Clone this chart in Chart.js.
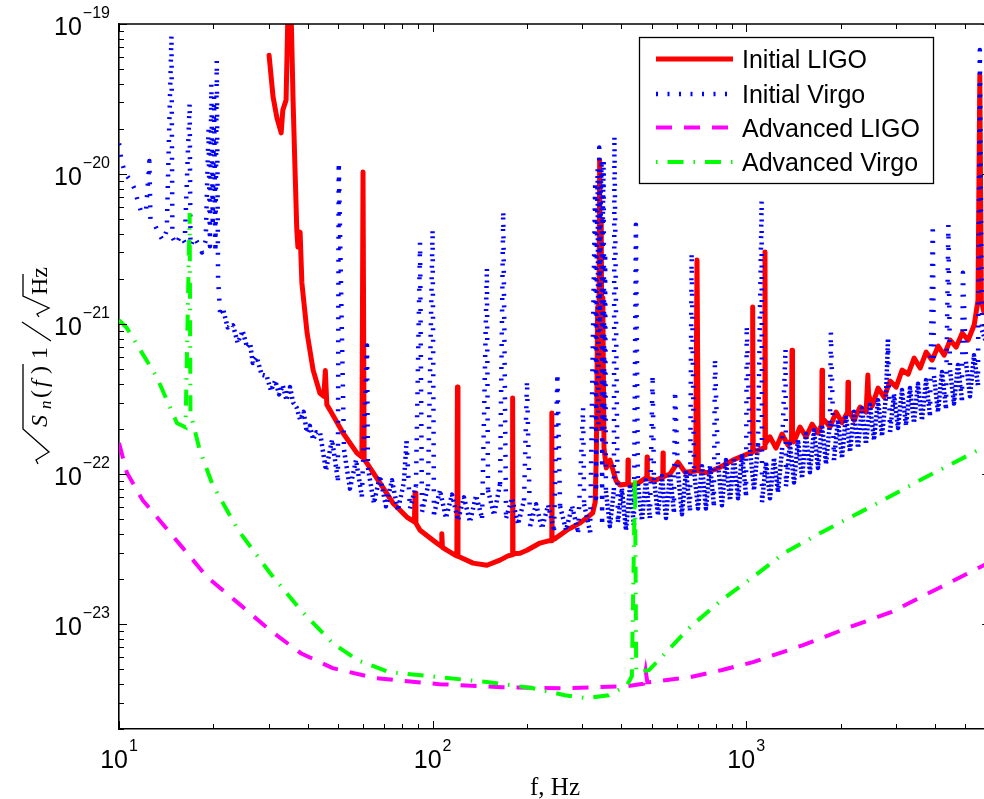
<!DOCTYPE html>
<html><head><meta charset="utf-8">
<script src="https://cdn.jsdelivr.net/npm/chart.js@4.4.1/dist/chart.umd.min.js"></script>
<style>html,body{margin:0;padding:0;overflow:hidden;background:#fff}canvas{display:block}</style>
</head><body>
<canvas id="c" width="1000" height="799"></canvas>
<script>
// ---- tick labels & names ----
const xTickExponents = [1, 2, 3];
const yTickExponents = [-19, -20, -21, -22, -23];
const seriesNames = ['Initial LIGO', 'Initial Virgo', 'Advanced LIGO', 'Advanced Virgo'];

// ---- Initial LIGO ----
const ligoF = [30.1, 31.0, 31.9, 32.9, 33.3, 34.1, 34.6, 35.3, 35.9, 36.4, 36.9, 37.2, 37.8, 38.3, 39.8, 41.6, 43.7, 45.0, 45.5, 46.0, 47.1, 51.8, 57.4, 59.5, 60, 60.5, 61.8, 68, 74.8, 82.8, 87.5, 87.9, 88.5, 91.2, 103, 106.5, 107, 107.5, 111, 118, 119.5, 120, 120.5, 122, 134.6, 149, 164, 174, 179.5, 180, 180.5, 190, 200, 220, 236, 239.5, 240, 240.5, 245, 268, 295, 324, 330, 333, 336, 338, 341, 343, 345, 347, 349, 352, 358, 368, 385, 396, 419, 420, 421, 442, 482, 483, 484, 512, 542, 543, 544, 571, 606, 638, 690, 697, 704, 750, 825, 907, 991, 1045, 1049, 1053, 1090, 1145, 1148, 1152, 1191, 1245, 1301, 1359, 1395, 1400, 1405, 1421, 1485, 1552, 1622, 1695, 1740, 1745, 1752, 1851, 1935, 2022, 2105, 2112, 2120, 2208, 2308, 2412, 2444, 2455, 2521, 2634, 2753, 2877, 3007, 3142, 3284, 3432, 3587, 3749, 3918, 4094, 4279, 4472, 4673, 4884, 5104, 5334, 5485, 5560, 5620, 5730, 6000];
const ligoV = [6.2e-20, 3.26e-20, 2.36e-20, 1.88e-20, 2.67e-20, 3.11e-20, 1.3e-19, 1.5e-19, 3.1e-20, 1.11e-20, 4.23e-21, 3.26e-21, 4.1e-21, 1.88e-21, 8.7e-22, 4.93e-22, 3.47e-22, 3.3e-22, 4.9e-22, 2.9e-22, 2.67e-22, 1.88e-22, 1.38e-22, 1.3e-22, 1.03e-20, 1.25e-22, 1.18e-22, 8.7e-23, 6.4e-23, 5.17e-23, 4.8e-23, 7.47e-23, 4.7e-23, 4.23e-23, 3.47e-23, 3.3e-23, 4.0e-23, 3.25e-23, 3.11e-23, 2.88e-23, 2.85e-23, 3.8e-22, 2.83e-23, 2.8e-23, 2.55e-23, 2.47e-23, 2.67e-23, 2.85e-23, 2.9e-23, 3.21e-22, 2.95e-23, 2.97e-23, 3.11e-23, 3.47e-23, 3.6e-23, 3.6e-23, 2.55e-22, 3.65e-23, 3.7e-23, 4.23e-23, 4.71e-23, 5.5e-23, 6.5e-23, 1.5e-22, 1.3e-21, 2e-22, 1.24e-20, 3e-22, 5e-21, 2e-22, 1.5e-21, 1.5e-22, 1.1e-22, 1.24e-22, 9e-23, 8.45e-23, 8.6e-23, 1.24e-22, 8.5e-23, 8.45e-23, 9.5e-23, 1.3e-22, 9.4e-23, 9.1e-23, 9.5e-23, 1.38e-22, 9.6e-23, 1.0e-22, 1.2e-22, 1.03e-22, 1.05e-22, 2.67e-21, 1.05e-22, 1.02e-22, 1.11e-22, 1.24e-22, 1.34e-22, 1.4e-22, 1.3e-21, 1.42e-22, 1.44e-22, 1.5e-22, 3.02e-21, 1.6e-22, 1.77e-22, 1.49e-22, 1.85e-22, 1.56e-22, 1.69e-22, 6.7e-22, 1.82e-22, 1.64e-22, 2.06e-22, 1.77e-22, 2.15e-22, 1.88e-22, 2.12e-22, 4.93e-22, 2.36e-22, 2.06e-22, 2.59e-22, 2.2e-22, 2.59e-22, 4.1e-22, 2.67e-22, 2.28e-22, 2.8e-22, 2.59e-22, 4.57e-22, 3.41e-22, 2.84e-22, 3.74e-22, 3.26e-22, 4.17e-22, 3.8e-22, 4.93e-22, 4.64e-22, 5.93e-22, 5.09e-22, 6.5e-22, 5.75e-22, 7.13e-22, 6.21e-22, 7.82e-22, 7.03e-22, 8.7e-22, 7.82e-22, 9.85e-22, 1.44e-21, 4.57e-20, 1.44e-21, 1.2e-21, 1.3e-21];

// ---- Initial Virgo (four frequency bands) ----
const virgoF1 = [10, 10.2, 10.5, 10.9, 11.2, 11.5, 11.8, 12.2, 12.5, 12.6, 13.0, 13.4, 13.8, 14.2, 14.7, 14.8, 15.2, 15.7, 16.2, 16.8, 16.9, 17.4, 17.9, 18.4, 18.9, 19.3, 19.5, 19.7, 19.9, 20.1, 20.3, 20.5, 20.7, 21.0];
const virgoV1 = [1.6e-20, 1.2e-20, 1.0e-20, 9e-21, 8e-21, 6.5e-21, 5.5e-21, 5.8e-21, 1.22e-20, 5e-21, 4.6e-21, 4.0e-21, 3.6e-21, 4.2e-21, 8.45e-20, 3.8e-21, 3.4e-21, 3.9e-21, 3.5e-21, 2.97e-20, 3.3e-21, 3.8e-21, 3.4e-21, 3.0e-21, 3.6e-21, 2.0e-20, 3.3e-21, 4.0e-20, 4.5e-21, 3.3e-20, 3.0e-21, 5.75e-20, 2.0e-21, 1.2e-21];
const virgoF2 = [21.5, 22.2, 23.1, 23.9, 24.8, 25.6, 26.2, 26.7, 27.5, 28.5, 29.6, 30.5, 31.5, 32.4, 33.3, 34.2, 35.1, 35.9, 36.8, 37.8, 38.8, 39.7, 40.6, 41.6, 42.6];
const virgoV2 = [1.25e-21, 9.5e-22, 9.8e-22, 7.5e-22, 9e-22, 7.0e-22, 7.4e-22, 5.5e-22, 6.0e-22, 4.6e-22, 4.5e-22, 3.6e-22, 4.2e-22, 3.4e-22, 3.9e-22, 3.1e-22, 3.8e-22, 3.0e-22, 2.8e-22, 2.3e-22, 2.6e-22, 1.9e-22, 2.1e-22, 1.7e-22, 1.9e-22];
const virgoF3 = [43.75, 45.7, 47.8, 49.9, 50.2, 52.2, 54.5, 57.0, 59.5, 61.8, 62.2, 65.0, 67.9, 71.0, 74.2, 77.5, 81.0, 82.6, 84.7, 88.5, 91.2, 92.5, 96.7, 100, 101.0, 105.6, 110.3, 115.3, 120.5, 125.9, 131.6, 137.6, 143.8, 149, 150.2, 157.0, 164.1, 168, 171.5, 179.2, 187.3, 195.7, 200, 204.6, 213.8, 223.4, 233.5, 244.0, 250, 255.0, 266.5, 278.5, 291.1, 302, 304.2, 317.9, 330, 332.2, 334, 336, 338, 340, 342, 344, 346, 347.2, 349, 351, 353, 355];
const virgoV3 = [1.9e-22, 1.06e-22, 1.69e-22, 9.1e-23, 1.2e-20, 1.45e-22, 8.0e-23, 1.24e-22, 7.1e-23, 7.2e-22, 1.1e-22, 6.4e-23, 9.7e-23, 6.1e-23, 9.1e-23, 5.75e-23, 8.8e-23, 1.65e-22, 5.9e-23, 8.3e-23, 3.5e-21, 5.6e-23, 8.3e-23, 4.3e-21, 5.4e-23, 7.8e-23, 5.1e-23, 7.3e-23, 4.93e-23, 7.0e-23, 4.8e-23, 7.2e-23, 5.1e-23, 2.4e-21, 7.8e-23, 5.33e-23, 8.6e-23, 5.7e-21, 5.1e-23, 6.9e-23, 4.64e-23, 6.7e-23, 4.2e-22, 4.5e-23, 6.3e-23, 4.35e-23, 6.2e-23, 4.23e-23, 4.7e-22, 6.1e-23, 4.23e-23, 6.1e-23, 4.1e-23, 2.8e-22, 6.3e-23, 4.1e-23, 9e-21, 6.9e-23, 3e-21, 1.1e-20, 2e-22, 1.5e-20, 9e-22, 8e-21, 1.2e-20, 4.5e-23, 5e-21, 1.2e-20, 2e-22, 3e-21];
const virgoF4 = [357, 367.6, 378.6, 380, 389.9, 401.5, 413.6, 425.9, 438.6, 445, 451.7, 465.1, 479, 493.3, 503, 508, 523.1, 538.7, 555, 571.4, 588.5, 593, 606, 624, 643, 662, 670, 682, 702, 723, 744, 767, 789, 795, 813, 837, 862, 888, 914, 942, 970, 999, 1004, 1029, 1059, 1091, 1120, 1123, 1157, 1191, 1227, 1263, 1301, 1335, 1339, 1379, 1421, 1463, 1507, 1551, 1597, 1645, 1694, 1745, 1797, 1850, 1862, 1905, 1962, 2021, 2081, 2143, 2207, 2273, 2340, 2410, 2482, 2556, 2632, 2711, 2791, 2833, 2875, 2960, 3049, 3139, 3233, 3329, 3428, 3531, 3636, 3745, 3856, 3936, 3971, 4089, 4211, 4337, 4413, 4466, 4599, 4736, 4877, 4910, 5022, 5172, 5326, 5484, 5560, 5648, 5900, 6000];
const virgoV4 = [7.7e-23, 4.5e-23, 7.82e-23, 1.8e-20, 4.8e-23, 8.0e-23, 4.23e-23, 8.2e-23, 4.57e-23, 4.6e-21, 8.6e-23, 4.93e-23, 9.1e-23, 5.1e-23, 4.6e-22, 9.4e-23, 5.33e-23, 9.7e-23, 5.1e-23, 1.0e-22, 5.6e-23, 3.6e-22, 1.03e-22, 5.4e-23, 1.06e-22, 5.75e-23, 3.0e-21, 1.06e-22, 5.9e-23, 1.13e-22, 5.9e-23, 1.13e-22, 6.2e-23, 5.9e-22, 1.2e-22, 6.2e-23, 1.24e-22, 6.7e-23, 1.28e-22, 6.9e-23, 1.36e-22, 7.24e-23, 9.8e-22, 1.45e-22, 7.82e-23, 1.56e-22, 6.7e-21, 6.5e-23, 1.2e-22, 6.9e-23, 1.28e-22, 7.6e-23, 1.45e-22, 6.9e-22, 8.3e-23, 1.59e-22, 8.8e-23, 1.69e-22, 9.4e-23, 1.85e-22, 1.03e-22, 1.96e-22, 1.1e-22, 2.12e-22, 1.17e-22, 2.2e-22, 8.9e-22, 1.24e-22, 2.29e-22, 1.28e-22, 2.47e-22, 1.41e-22, 2.6e-22, 1.5e-22, 2.75e-22, 1.59e-22, 2.9e-22, 1.69e-22, 3.11e-22, 1.8e-22, 3.3e-22, 7.9e-22, 1.91e-22, 3.4e-22, 2.03e-22, 3.63e-22, 2.12e-22, 3.75e-22, 2.2e-22, 4.0e-22, 2.29e-22, 4.23e-22, 2.47e-22, 4.6e-21, 4.5e-22, 2.6e-22, 4.8e-22, 2.75e-22, 4.6e-21, 4.93e-22, 2.95e-22, 5.33e-22, 3.11e-22, 2.2e-21, 5.6e-22, 3.3e-22, 6.2e-22, 3.92e-22, 6.7e-20, 9.1e-22, 7e-22, 1.2e-21];

// ---- Advanced LIGO ----
const aligoF = [10, 10.6, 11.9, 15.9, 19.1, 24, 30.3, 38, 48, 66, 105, 166, 264, 417, 470, 478, 484, 490, 551, 662, 832, 1052, 1518, 2095, 2895, 4180, 5730, 6000];
const aligoV = [1.61e-22, 1.02e-22, 6.7e-23, 3.26e-23, 2.06e-23, 1.38e-23, 9.1e-24, 6.4e-24, 5.09e-24, 4.36e-24, 3.98e-24, 3.8e-24, 3.74e-24, 3.86e-24, 4.0e-24, 4.9e-24, 4.1e-24, 4.1e-24, 4.23e-24, 4.43e-24, 4.93e-24, 5.58e-24, 7.24e-24, 9.4e-24, 1.2e-23, 1.77e-23, 2.47e-23, 2.6e-23];

// ---- Advanced Virgo ----
const advF = [10, 10.6, 13.2, 15.3, 16.3, 16.8, 16.9, 18.1, 19.9, 24, 30.3, 38, 48, 57.7, 72.6, 105, 151, 209, 264, 310, 364, 417, 432, 442, 446, 490, 662, 832, 1052, 1320, 1718, 2630, 3580, 5730, 6000];
const advV = [1.06e-21, 9.4e-22, 4.43e-22, 2.19e-22, 2.05e-22, 5.5e-21, 2.55e-22, 1.44e-22, 8.45e-23, 4.23e-23, 2.19e-23, 1.24e-23, 7.47e-24, 5.75e-24, 4.79e-24, 4.43e-24, 4.1e-24, 3.74e-24, 3.36e-24, 3.21e-24, 3.36e-24, 3.92e-24, 4.5e-24, 9.7e-23, 4.8e-24, 4.93e-24, 9.55e-24, 1.44e-23, 2.06e-23, 2.97e-23, 4.04e-23, 6.41e-23, 9.1e-23, 1.51e-22, 1.6e-22];

// ---- build ----
const pts = (F, V) => F.map((f, i) => ({x: f, y: V[i]}));
const virgoF = [...virgoF1, ...virgoF2, ...virgoF3, ...virgoF4];
const virgoV = [...virgoV1, ...virgoV2, ...virgoV3, ...virgoV4];

const SANS = '"Liberation Sans", Arial, Helvetica, sans-serif';
const SERIF = '"Liberation Serif", "Times New Roman", serif';

// dense noise band of the dotted Virgo trace (not spikes) gets a tighter dot spacing
function virgoSegDash(ctx) {
  const a = ctx.p0.parsed, b = ctx.p1.parsed;
  if (a.x < 21) return undefined;
  const r = Math.max(a.y, b.y) / Math.min(a.y, b.y);
  if (r > 2.6) return undefined;
  return a.x > 350 ? [2, 2.2] : [2, 3.5];
}

const matlabAxes = {
  id: 'matlabAxes',
  beforeDraw(chart) {
    const c = chart.ctx;
    c.save(); c.fillStyle = '#fff'; c.fillRect(0, 0, chart.width, chart.height); c.restore();
  },
  afterDraw(chart) {
    const c = chart.ctx, xs = chart.scales.x, ys = chart.scales.y;
    const {left, right, top, bottom} = chart.chartArea;
    c.save();
    c.strokeStyle = '#000'; c.lineWidth = 1.6;
    c.beginPath();
    c.moveTo(left, top); c.lineTo(right, top); c.lineTo(right, bottom);
    c.stroke();
    c.lineWidth = 1;
    c.beginPath();
    for (let e = 1; e <= 3; e++) for (let m = 1; m <= 9; m++) {
      const v = m * Math.pow(10, e);
      if (v > xs.max) continue;
      const px = Math.round(xs.getPixelForValue(v)) + 0.5, L = m === 1 ? 8 : 5;
      c.moveTo(px, bottom); c.lineTo(px, bottom - L);
      c.moveTo(px, top); c.lineTo(px, top + L);
    }
    for (let e = -24; e <= -19; e++) for (let m = 1; m <= 9; m++) {
      const v = m * Math.pow(10, e);
      if (v < ys.min * 0.999 || v > ys.max * 1.001) continue;
      const py = Math.round(ys.getPixelForValue(v)) + 0.5, L = m === 1 ? 8 : 5;
      c.moveTo(left, py); c.lineTo(left + L, py);
      c.moveTo(right, py); c.lineTo(right - L, py);
    }
    c.stroke();

    // tick labels
    c.fillStyle = '#000';
    c.textBaseline = 'alphabetic';
    yTickExponents.forEach(ex => {
      const py = ys.getPixelForValue(Math.pow(10, ex));
      const sup = '\u2212' + Math.abs(ex);
      c.font = '16px ' + SANS;
      const sw = c.measureText(sup).width;
      c.textAlign = 'right';
      c.fillText(sup, 110, py - 6);
      c.font = '25px ' + SANS;
      c.fillText('10', 110 - sw - 1, py + 11);
    });
    xTickExponents.forEach(ex => {
      const px = xs.getPixelForValue(Math.pow(10, ex));
      const sup = String(ex);
      c.font = '25px ' + SANS;
      const bw = c.measureText('10').width;
      c.font = '16px ' + SANS;
      const sw = c.measureText(sup).width;
      const x0 = px - (bw + 1 + sw) / 2;
      c.textAlign = 'left';
      c.font = '25px ' + SANS;
      c.fillText('10', x0, 768);
      c.font = '16px ' + SANS;
      c.fillText(sup, x0 + bw + 1, 751);
    });

    // x title
    c.font = '25px ' + SERIF;
    c.textAlign = 'center';
    c.fillText('f, Hz', 555, 795);

    // y title (rotated)
    c.save();
    c.translate(47, 465);
    c.rotate(-Math.PI / 2);
    c.textAlign = 'left';
    c.lineWidth = 1.3;
    c.strokeStyle = '#000';
    c.beginPath();
    c.moveTo(1, -9); c.lineTo(5, -11); c.lineTo(13, 2); c.lineTo(36, -24); c.lineTo(101, -24);
    c.moveTo(148, -8); c.lineTo(151, -10); c.lineTo(157, 2); c.lineTo(169, -24); c.lineTo(191, -24);
    c.moveTo(124, 4); c.lineTo(143, -25);
    c.stroke();
    c.font = 'italic 24px ' + SERIF; c.fillText('S', 38, 0);
    c.font = 'italic 17px ' + SERIF; c.fillText('n', 56, 4);
    c.font = '24px ' + SERIF; c.fillText('(', 67, 0);
    c.font = 'italic 24px ' + SERIF; c.fillText('f', 78, 0);
    c.font = '24px ' + SERIF; c.fillText(')', 91, 0);
    c.fillText('1', 106, 0);
    c.fillText('Hz', 170, 0);
    c.restore();

    // legend
    const bx = 639, by = 37, bw2 = 294, bh = 146;
    c.fillStyle = '#fff';
    c.fillRect(bx, by, bw2, bh);
    c.strokeStyle = '#000'; c.lineWidth = 1.3;
    c.strokeRect(bx + 0.5, by + 0.5, bw2, bh);
    const rowsY = [59, 94, 127.5, 162];
    chart.data.datasets.forEach((ds, i) => {
      const y = rowsY[i];
      c.save();
      c.strokeStyle = ds.borderColor;
      c.lineWidth = ds.borderWidth;
      c.lineCap = 'butt';
      c.setLineDash(ds.borderDash || []);
      c.lineDashOffset = ds.legendDashOffset || 0;
      c.beginPath(); c.moveTo(656, y); c.lineTo(733, y); c.stroke();
      c.restore();
      c.fillStyle = '#000';
      c.font = '25px ' + SANS;
      c.textAlign = 'left';
      c.fillText(ds.label, 742, y + 9);
    });
    c.restore();
  }
};

const common = {pointRadius: 0, pointHoverRadius: 0, tension: 0, fill: false, clip: 0, spanGaps: true};

new Chart(document.getElementById('c'), {
  type: 'line',
  data: {
    datasets: [
      Object.assign({label: seriesNames[0], data: pts(ligoF, ligoV), borderColor: '#ff0000', borderWidth: 5, borderJoinStyle: 'round', borderCapStyle: 'round', order: 4}, common),
      Object.assign({label: seriesNames[1], data: pts(virgoF, virgoV), borderColor: '#0000ff', borderWidth: 4.5, borderDash: [2, 9.5], borderCapStyle: 'butt', borderJoinStyle: 'round', order: 3, segment: {borderDash: virgoSegDash}}, common),
      Object.assign({label: seriesNames[2], data: pts(aligoF, aligoV), borderColor: '#ff00ff', borderWidth: 4, borderDash: [16, 12], borderCapStyle: 'butt', order: 2}, common),
      Object.assign({label: seriesNames[3], data: pts(advF, advV), borderColor: '#00ff00', borderWidth: 4, borderDash: [16, 10, 1.5, 10], legendDashOffset: 26, borderCapStyle: 'butt', order: 1}, common)
    ]
  },
  options: {
    responsive: false,
    animation: false,
    devicePixelRatio: 1,
    parsing: false,
    normalized: true,
    events: [],
    layout: {padding: {left: 119, top: 24, right: 9.8, bottom: 70}},
    plugins: {legend: {display: false}, tooltip: {enabled: false}, title: {display: false}},
    scales: {
      x: {
        type: 'logarithmic', min: 10, max: 6000,
        grid: {display: false, drawTicks: false},
        ticks: {display: false},
        border: {display: true, color: '#000', width: 1.6},
        afterFit: s => { s.height = 0; }
      },
      y: {
        type: 'logarithmic', min: 2e-24, max: 1e-19,
        grid: {display: false, drawTicks: false},
        ticks: {display: false},
        border: {display: true, color: '#000', width: 1.6},
        afterFit: s => { s.width = 0; }
      }
    }
  },
  plugins: [matlabAxes]
});
</script>
</body></html>
